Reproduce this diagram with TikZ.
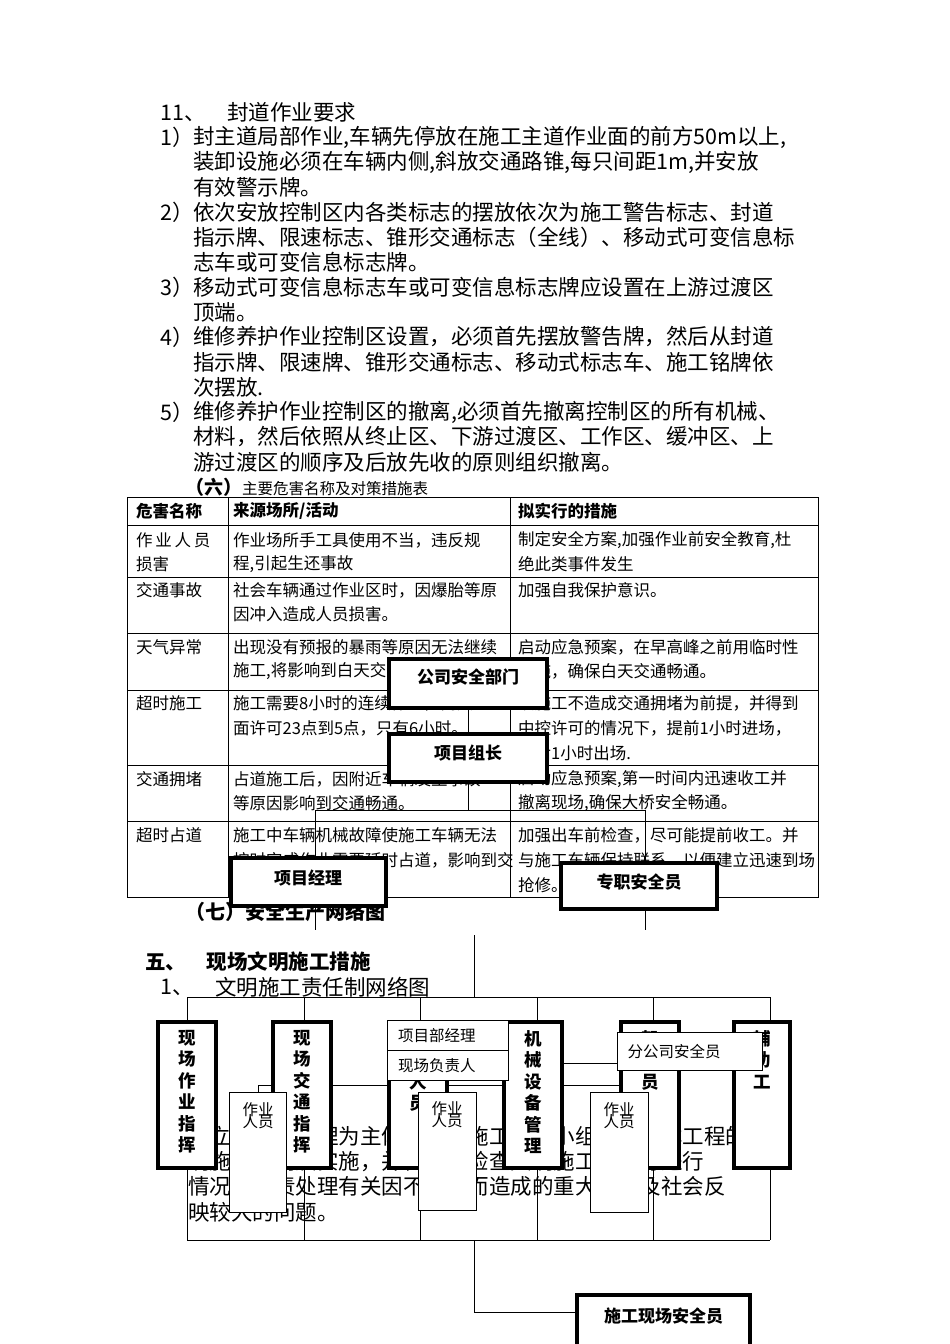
\documentclass[tikz,border=0pt]{standalone}
\usepackage{fontspec}
\setmainfont{Noto Sans CJK SC}
\newcommand{\tl}[3]{\node[anchor=west,inner sep=0pt] at (#1,#2) {#3};}
\tikzset{
 thick box/.style={draw,line width=4pt,fill=white,inner sep=0pt},
 thin box/.style={draw,line width=0.8pt,fill=white,inner sep=0pt},
 vtext/.style={anchor=north,inner sep=0pt,align=center,font=\fontsize{17.5}{21.5}\selectfont\bfseries},
 conn/.style={line width=0.9pt}
}
\begin{document}
\begin{tikzpicture}[x=1pt,y=-1pt]
\useasboundingbox (0,0) rectangle (950,1344);
% ---- top text
\begin{scope}[font=\fontsize{21.5}{25}\selectfont]
\tl{160}{112}{11、\quad 封道作业要求}
\tl{160}{137}{1）}\tl{193}{137}{封主道局部作业,车辆先停放在施工主道作业面的前方50m以上,}
\tl{193}{162}{装卸设施必须在车辆内侧,斜放交通路锥,每只间距1m,并安放}
\tl{193}{187}{有效警示牌。}
\tl{160}{212}{2）}\tl{193}{212}{依次安放控制区内各类标志的摆放依次为施工警告标志、封道}
\tl{193}{237}{指示牌、限速标志、锥形交通标志（全线）、移动式可变信息标}
\tl{193}{262}{志车或可变信息标志牌。}
\tl{160}{287}{3）}\tl{193}{287}{移动式可变信息标志车或可变信息标志牌应设置在上游过渡区}
\tl{193}{312}{顶端。}
\tl{160}{337}{4）}\tl{193}{337}{维修养护作业控制区设置，必须首先摆放警告牌，然后从封道}
\tl{193}{362}{指示牌、限速牌、锥形交通标志、移动式标志车、施工铭牌依}
\tl{193}{387}{次摆放.}
\tl{160}{412}{5）}\tl{193}{412}{维修养护作业控制区的撤离,必须首先撤离控制区的所有机械、}
\tl{193}{437}{材料，然后依照从终止区、下游过渡区、工作区、缓冲区、上}
\tl{193}{462}{游过渡区的顺序及后放先收的原则组织撤离。}
\end{scope}
\tl{185}{487}{{\fontsize{19}{25}\selectfont\bfseries （六）}{\fontsize{15.5}{20}\selectfont 主要危害名称及对策措施表}}
% ---- table
\draw[line width=0.7pt] (127,497) rectangle (818,897);
\foreach \yy in {525,577,633,690,765,821} \draw[line width=0.7pt] (127,\yy) -- (818,\yy);
\draw[line width=0.7pt] (228,497) -- (228,897) (510,497) -- (510,897);
\begin{scope}[font=\fontsize{16.5}{22}\selectfont]
\tl{136}{511}{\bfseries 危害名称}\tl{233}{511}{\bfseries 来源场所/活动}\tl{518}{511}{\bfseries 拟实行的措施}
\tl{136}{540}{作\,业\,人\,员}\tl{136}{564}{损害}
\tl{233}{540}{作业场所手工具使用不当，违反规}\tl{233}{564}{程,引起生还事故}
\tl{518}{540}{制定安全方案,加强作业前安全教育,杜}\tl{518}{564}{绝此类事件发生}
\tl{136}{590}{交通事故}\tl{233}{590}{社会车辆通过作业区时，因爆胎等原}\tl{233}{614}{因冲入造成人员损害。}
\tl{518}{590}{加强自我保护意识。}
\tl{136}{647}{天气异常}\tl{233}{647}{出现没有预报的暴雨等原因无法继续}\tl{233}{671}{施工,将影响到白天交通畅通。}
\tl{518}{647}{启动应急预案，在早高峰之前用临时性}\tl{518}{671}{措施，确保白天交通畅通。}
\tl{136}{703}{超时施工}\tl{233}{703}{施工需要8小时的连续作业，而只}\tl{233}{728}{面许可23点到5点，只有6小时。}
\tl{518}{703}{以施工不造成交通拥堵为前提，并得到}\tl{518}{728}{中控许可的情况下，提前1小时进场，}\tl{518}{753}{延后1小时出场.}
\tl{136}{779}{交通拥堵}\tl{233}{779}{占道施工后，因附近车辆发生事故}\tl{233}{803}{等原因影响到交通畅通。}
\tl{518}{779}{启动应急预案,第一时间内迅速收工并}\tl{518}{803}{撤离现场,确保大桥安全畅通。}
\tl{136}{835}{超时占道}\tl{233}{835}{施工中车辆机械故障使施工车辆无法}\tl{233}{860}{按时完成作业需要延时占道，影响到交}
\tl{518}{835}{加强出车前检查，尽可能提前收工。并}\tl{518}{860}{与施工车辆保持联系，以便建立迅速到场}\tl{518}{885}{抢修。}
\end{scope}
\tl{185}{912}{\fontsize{20}{25}\selectfont\bfseries （七）安全生产网络图}
\tl{145}{962}{\fontsize{20.5}{25}\selectfont\bfseries 五、\quad 现场文明施工措施}
\begin{scope}[font=\fontsize{21.5}{25}\selectfont]
\tl{160}{987}{1、}\tl{215}{987}{文明施工责任制网络图}
\tl{188}{1137}{建立以项目经理为主体的文明施工管理小组，负责本工程的文}
\tl{188}{1162}{明施工规划及实施，并督促、检查文明施工的执行进行}
\tl{188}{1187}{情况，负责处理有关因不文明而造成的重大事故及社会反}
\tl{188}{1212}{映较大的问题。}
\end{scope}
% ---- chart 1
\begin{scope}[font=\fontsize{17}{20}\selectfont\bfseries]
\node[thick box,minimum width=158pt,minimum height=49pt,text depth=14pt] (gs) at (468,683) {公司安全部门};
\node[thick box,minimum width=158pt,minimum height=48pt,text depth=12pt] (zz) at (468,758) {项目组长};
\coordinate (h1) at (468,810);
\draw[conn] (gs) -- (zz); \draw[conn] (zz.south) -- (h1);
\draw[conn] (315,810) -- (645,810);
\draw[conn] (315,810) -- (315,930); \draw[conn] (645,810) -- (645,930);
\node[thick box,minimum width=155pt,minimum height=48pt,text depth=10pt] (jl) at (308,882) {项目经理};
\node[thick box,minimum width=156pt,minimum height=46pt,text depth=10pt] (aq) at (639,886) {专职安全员};
\end{scope}
% ---- chart 2
\coordinate (t2) at (474,997);
\draw[conn] (474,935) -- (t2);
\draw[conn] (187,997) -- (770,997) (187,1240) -- (770,1240);
\foreach \xx in {187,304,420,537,653,770} \draw[conn] (\xx,997) -- (\xx,1240);
\draw[conn] (258,1085) -- (620,1085) (258,1085) -- (258,1100) (563,1063) -- (620,1063);
\foreach \nm/\xx/\ww/\tx in {b1/187/58/{现\\场\\作\\业\\指\\挥},b2/302/58/{现\\场\\交\\通\\指\\挥},b3/418/58/{作\\业\\人\\员},b4/533/58/{机\\械\\设\\备\\管\\理},b5/650/58/{驾\\驶\\员},b6/762/56/{辅\\助\\工}}{
 \node[thick box,minimum width=\ww pt,minimum height=146pt,anchor=north] (\nm) at (\xx,1020) {};
 \node[vtext] at (\xx,1030) {\tx};
}
\begin{scope}[font=\fontsize{15.5}{18}\selectfont]
\node[thin box,minimum width=121pt,minimum height=30pt,anchor=north west,text width=110pt,align=left] (xm) at (387,1020) {~项目部经理};
\node[thin box,minimum width=121pt,minimum height=30pt,anchor=north west,text width=110pt,align=left] (fz) at (387,1050) {~现场负责人};
\node[thin box,minimum width=145pt,minimum height=38pt,anchor=north west,text width=135pt,align=left] (fg) at (617,1032) {~分公司安全员};
\node[thin box,minimum width=57pt,minimum height=120pt,anchor=north,text depth=75pt,align=center] (z1) at (258,1092) {作业\\[-6pt]人员};
\node[thin box,minimum width=58pt,minimum height=118pt,anchor=north,text depth=75pt,align=center] (z2) at (447,1092) {作业\\[-6pt]人员};
\node[thin box,minimum width=58pt,minimum height=120pt,anchor=north,text depth=75pt,align=center] (z3) at (619,1092) {作业\\[-6pt]人员};
\end{scope}
\node[thick box,minimum width=173pt,minimum height=60pt,anchor=north west,text depth=20pt,font=\fontsize{17}{20}\selectfont\bfseries] (sa) at (575,1293) {施工现场安全员};
\draw[conn] (474,1240) |- (sa.west |- 0,1312);
\end{tikzpicture}
\end{document}
